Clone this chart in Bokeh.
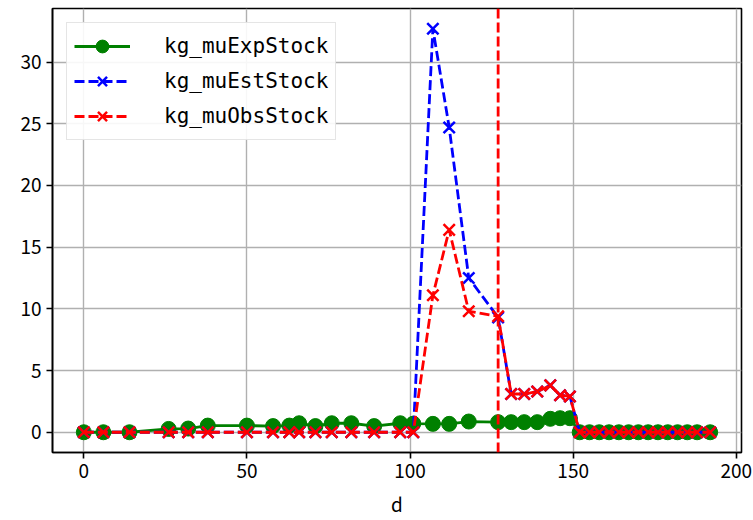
from bokeh.plotting import figure
from bokeh.models import Range1d, Legend, LegendItem, Span, FixedTicker, ColumnDataSource
from bokeh.embed import file_html
from bokeh.resources import INLINE

# ---- data ----
d = [0, 6, 14, 26, 32, 38, 50, 58, 63, 66, 71, 76, 82, 89, 97, 101,
     107, 112, 118, 127, 131, 135, 139, 143, 146, 149,
     152, 155, 158, 161, 164, 167, 170, 173, 176, 179, 182, 185, 188, 192]
kg_muExpStock = [0, 0, 0, 0.27, 0.3, 0.54, 0.54, 0.5, 0.54, 0.73, 0.5, 0.73, 0.73, 0.5, 0.73, 0.7,
                 0.68, 0.68, 0.87, 0.82, 0.82, 0.82, 0.82, 1.09, 1.14, 1.14,
                 0, 0, 0, 0, 0, 0, 0, 0, 0, 0, 0, 0, 0, 0]
kg_muEstStock = [0, 0, 0, 0, 0, 0, 0, 0, 0, 0, 0, 0, 0, 0, 0, 0,
                 32.7, 24.7, 12.5, 9.3, 3.1, 3.1, 3.3, 3.8, 3.0, 2.9,
                 0, 0, 0, 0, 0, 0, 0, 0, 0, 0, 0, 0, 0, 0]
kg_muObsStock = [0, 0, 0, 0, 0, 0, 0, 0, 0, 0, 0, 0, 0, 0, 0, 0,
                 11.1, 16.4, 9.8, 9.4, 3.1, 3.1, 3.3, 3.8, 3.0, 2.9,
                 0, 0, 0, 0, 0, 0, 0, 0, 0, 0, 0, 0, 0, 0]
vline_d = 127
x_ticks = [0, 50, 100, 150, 200]
y_ticks = [0, 5, 10, 15, 20, 25, 30]

src = ColumnDataSource(dict(d=d, exp=kg_muExpStock, est=kg_muEstStock, obs=kg_muObsStock))

TICK_FONT = "Noto Sans CJK JP"
LW = 2.8
DASH = "10 4"

p = figure(width=753, height=520, output_backend="svg", toolbar_location=None,
           x_range=Range1d(-9.6, 201.6), y_range=Range1d(-1.64, 34.34))
p.min_border_left = 52
p.min_border_right = 12
p.min_border_top = 8
p.min_border_bottom = 68
p.background_fill_color = "white"
p.border_fill_color = "white"
p.outline_line_color = "black"
p.outline_line_width = 1.6

for g in (p.xgrid, p.ygrid):
    g.grid_line_color = "#b0b0b0"
    g.grid_line_width = 1.4
p.xaxis.ticker = FixedTicker(ticks=x_ticks)
p.yaxis.ticker = FixedTicker(ticks=y_ticks)

for ax in (p.xaxis, p.yaxis):
    ax.axis_line_color = "black"
    ax.axis_line_width = 1.6
    ax.major_tick_line_color = "black"
    ax.major_tick_line_width = 1.6
    ax.major_tick_out = 6
    ax.major_tick_in = 0
    ax.minor_tick_line_color = None
    ax.major_label_text_font = TICK_FONT
    ax.major_label_text_font_size = "19px"
    ax.major_label_text_color = "black"
    ax.axis_label_text_font = TICK_FONT
    ax.axis_label_text_font_size = "19px"
    ax.axis_label_text_font_style = "normal"
    ax.axis_label_text_color = "black"
p.xaxis.axis_label = "d"
p.xaxis.axis_label_standoff = 9
p.xaxis.major_label_standoff = 5
p.yaxis.major_label_standoff = 5

# series
l1 = p.line("d", "exp", source=src, line_color="green", line_width=LW)
s1 = p.scatter("d", "exp", source=src, marker="circle", size=15,
               fill_color="green", line_color="green")
l2 = p.line("d", "est", source=src, line_color="blue", line_width=LW, line_dash=DASH)
s2 = p.scatter("d", "est", source=src, marker="x", size=16, line_color="blue", line_width=2.5)
l3 = p.line("d", "obs", source=src, line_color="red", line_width=LW, line_dash=DASH)
s3 = p.scatter("d", "obs", source=src, marker="x", size=16, line_color="red", line_width=2.5)

vl = Span(location=vline_d, dimension="height", line_color="red", line_width=LW, line_dash=DASH)
p.add_layout(vl)

legend = Legend(items=[
    LegendItem(label="kg_muExpStock", renderers=[l1, s1]),
    LegendItem(label="kg_muEstStock", renderers=[l2, s2]),
    LegendItem(label="kg_muObsStock", renderers=[l3, s3]),
], location="top_left")
legend.label_text_font = "DejaVu Sans Mono"
legend.label_text_font_size = "21px"
legend.label_text_color = "black"
legend.glyph_width = 56
legend.glyph_height = 32
legend.label_standoff = 34
legend.spacing = 3
legend.padding = 7
legend.margin = 14
legend.border_line_color = "#cccccc"
legend.border_line_width = 1.5
legend.background_fill_alpha = 0.9
p.add_layout(legend)

open("out.html", "w").write(file_html(p, INLINE))
